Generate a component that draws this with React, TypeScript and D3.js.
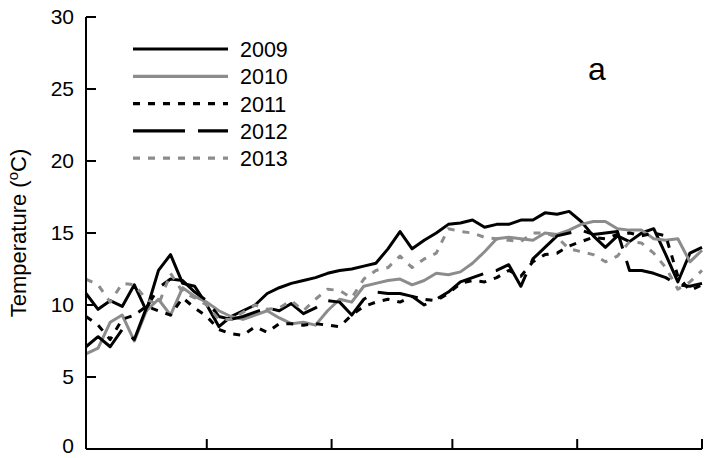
import React, { useEffect } from "react";
import * as d3 from "d3";

const DAYS = [0,3,6,9,12,15,18,21,24,27,30,33,36,39,42,45,48,51,54,57,60,63,66,69,72,75,78,81,84,87,90,93,96,99,102,105,108,111,114,117,120,123,126,129,132,135,138,141,144,147,150,153];

const T2009 = [10.8,9.7,10.3,9.9,11.4,9.6,12.4,13.5,11.5,11.3,10.0,8.5,9.2,9.6,10.0,10.8,11.2,11.5,11.7,11.9,12.2,12.4,12.5,12.7,12.9,13.9,15.1,13.9,14.5,15.0,15.6,15.7,15.9,15.4,15.6,15.6,15.9,15.9,16.4,16.3,16.5,15.8,14.8,14.0,14.8,14.4,15.0,15.3,13.5,11.6,13.6,14.0];
const T2010 = [6.6,7.0,8.8,9.3,7.5,9.6,10.4,9.3,11.2,10.6,10.2,9.6,9.2,9.0,9.3,9.6,9.1,8.7,8.8,8.6,9.6,10.4,10.2,11.3,11.5,11.7,11.8,11.4,11.7,12.2,12.1,12.3,12.9,13.7,14.6,14.7,14.6,14.5,15.0,14.9,15.2,15.6,15.8,15.8,15.3,15.2,15.2,14.6,14.5,14.6,13.0,13.8];
const T2011 = [9.2,8.6,7.6,9.0,9.3,9.9,9.6,9.3,10.5,9.8,9.2,8.3,8.0,7.9,8.5,8.1,8.7,8.7,8.6,8.7,8.6,8.5,9.3,9.9,10.2,10.4,10.2,10.6,10.4,10.3,10.8,11.5,11.7,11.6,11.9,12.4,12.0,13.0,13.5,13.6,14.1,14.4,14.7,14.6,14.9,15.0,14.8,15.0,14.8,12.0,11.0,11.4];
const T2012 = [7.1,7.8,7.1,8.3,7.6,9.8,11.2,11.8,11.7,10.9,10.3,9.2,9.0,9.2,9.5,9.8,9.6,10.1,9.4,9.8,10.3,10.2,9.3,10.4,10.9,10.8,10.8,10.6,10.0,10.4,10.9,11.6,11.9,12.2,12.4,12.8,11.3,13.2,14.0,14.8,15.0,15.2,14.9,15.0,15.1,12.4,12.4,12.2,11.9,11.4,11.3,11.5];
const T2013 = [11.8,11.4,10.2,11.5,11.4,10.4,10.0,12.2,10.9,10.5,10.0,9.0,9.0,9.5,10.0,9.7,9.8,10.3,9.6,10.4,11.1,11.0,10.5,11.8,12.4,12.6,13.4,12.6,13.2,13.6,15.3,15.1,15.0,14.7,14.6,14.5,14.4,15.0,15.0,14.7,13.9,13.7,13.5,13.0,13.4,14.4,14.3,13.6,12.6,11.1,11.6,12.4];

const YEARS = ["2009", "2010", "2011", "2012", "2013"];
const SERIES = [T2009, T2010, T2011, T2012, T2013];
const Y_TICKS = [0, 5, 10, 15, 20, 25, 30];
const X_TICKS = [30, 61, 91, 122, 153];

const STYLES = [
  { color: "#000000", dash: "none" },
  { color: "#8c8c8c", dash: "none" },
  { color: "#000000", dash: "7,8" },
  { color: "#000000", dash: "52,13" },
  { color: "#8c8c8c", dash: "7,8" },
];

const W = 705, H = 458;
const M = { left: 86, right: 3, top: 17, bottom: 9 };
const FONT = "'Liberation Sans', Arial, sans-serif";

export default function App() {
  useEffect(() => { document.body.style.margin = "0"; }, []);
  const x = d3.scaleLinear().domain([0, 153]).range([M.left, W - M.right]);
  const y = d3.scaleLinear().domain([0, 30]).range([H - M.bottom, M.top]);
  const line = d3.line<[number, number]>().x(d => x(d[0])).y(d => y(d[1]));

  return (
    <svg width={W} height={H} style={{ display: "block", background: "#fff" }} fontFamily={FONT}>
      {SERIES.map((s, i) => (
        <path key={YEARS[i]} d={line(s.map((v, j) => [DAYS[j], v] as [number, number])) || ""}
          fill="none" stroke={STYLES[i].color} strokeWidth={3}
          strokeDasharray={STYLES[i].dash} strokeLinejoin="round" />
      ))}
      <line x1={x(0)} x2={x(0)} y1={y(30)} y2={y(0)} stroke="#000" strokeWidth={2} />
      <line x1={x(0)} x2={x(153)} y1={y(0)} y2={y(0)} stroke="#000" strokeWidth={2} />
      {Y_TICKS.map(t => (
        <g key={t}>
          <line x1={x(0)} x2={x(0) + 10} y1={y(t)} y2={y(t)} stroke="#000" strokeWidth={2} />
          <text x={74} y={Math.min(y(t), 446)} dy="0.34em" textAnchor="end" fontSize={21}>{t}</text>
        </g>
      ))}
      {X_TICKS.map(t => (
        <line key={t} x1={x(t)} x2={x(t)} y1={y(0)} y2={y(0) - 10} stroke="#000" strokeWidth={2} />
      ))}
      <text transform={`translate(26,233) rotate(-90)`} textAnchor="middle" fontSize={22}>
        Temperature (<tspan dy="-8" fontSize={15}>o</tspan><tspan dy="8">C)</tspan>
      </text>
      {YEARS.map((yr, i) => {
        const ly = 49 + i * 27.3;
        return (
          <g key={yr}>
            <line x1={133} x2={228} y1={ly} y2={ly} stroke={STYLES[i].color} strokeWidth={3.2}
              strokeDasharray={STYLES[i].dash} />
            <text x={240} y={ly + 8} fontSize={21.5}>{yr}</text>
          </g>
        );
      })}
      <text x={588} y={80} fontSize={32}>a</text>
    </svg>
  );
}
